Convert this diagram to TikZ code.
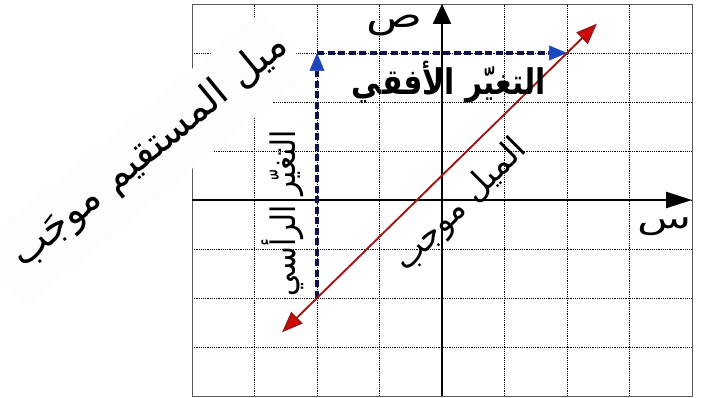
\documentclass[tikz,border=0pt]{standalone}
\usepackage{fontspec}
\usepackage{graphicx}
\usetikzlibrary{arrows.meta}
\TeXXeTstate=1
\newfontfamily\arabicfont[Script=Arabic]{DejaVu Sans}
\definecolor{navy}{RGB}{15,18,70}
\definecolor{tipblue}{RGB}{30,70,190}
\definecolor{linered}{RGB}{160,20,20}
\definecolor{tipred}{RGB}{210,10,10}
\definecolor{bgbox}{RGB}{253,253,253}
\definecolor{framegray}{RGB}{90,90,90}
\begin{document}
\begin{tikzpicture}[x=1pt,y=1pt,
  gridline/.style={black, line width=0.5pt, dash pattern=on 1.2pt off 1pt},
  framebox/.style={draw=framegray, line width=0.9pt},
  axisline/.style={black, line width=2.4pt},
  redline/.style={draw=linered, line width=1.9pt},
  changeline/.style={draw=navy, line width=3.8pt, dash pattern=on 7pt off 3.5pt},
  lbl/.style={inner sep=0pt, font=\arabicfont},
  bgpanel/.style={fill=bgbox, draw=none, inner sep=0pt}
]
\useasboundingbox (0,0) rectangle (702,398);
\begin{scope}[shift={(442pt,198pt)}, x=62.5pt, y=49pt]
  \foreach \i in {-3,...,3} \draw[gridline] (\i,-4) -- (\i,4);
  \foreach \j in {-3,...,3} \draw[gridline] (-4,\j) -- (4,\j);
  \draw[framebox] (-4,-4) rectangle (4,4);
  \coordinate (O) at (0,0);
  \coordinate (xstart) at (-4,0);
  \coordinate (xend) at (4,0);
  \coordinate (ybot) at (0,-4);
  \coordinate (ytop) at (0,4);
  \coordinate (rA) at (-2.56,-2.7);
  \coordinate (rB) at (2.48,3.6);
  \coordinate (P) at (-2,-2);
  \coordinate (Q) at (-2,3);
  \coordinate (R) at (2,3);
\end{scope}
% background panel of the title
\node[bgpanel, minimum width=370pt, minimum height=77pt, rotate=39.6] (panel) at (143.5,239) {};
% axes
\draw[axisline, -{Triangle[length=26pt,width=16pt]}] (xstart) -- (xend);
\draw[axisline, -{Triangle[length=20pt,width=18pt]}] (ybot) -- (ytop);
% vertical and horizontal change
\draw[changeline, -{Triangle[length=18pt,width=15pt,fill=tipblue,color=tipblue,line width=0.5pt]}] (P) -- (Q);
\draw[changeline, -{Triangle[length=18pt,width=15pt,fill=tipblue,color=tipblue,line width=0.5pt]}] (Q) -- (R);
% the line
\draw[redline, {Triangle[length=21pt,width=16pt,fill=tipred]}-{Triangle[length=21pt,width=16pt,fill=tipred]}] (rA) -- (rB);
% labels
\node[lbl] (ylbl) at (394,373) {\resizebox*{56pt}{21pt}{ص}};
\node[lbl] (xlbl) at (664,171) {\resizebox*{54pt}{18pt}{س}};
\node[lbl, font=\arabicfont\bfseries] (hlbl) at (449,316) {\resizebox*{194pt}{42pt}{\beginR التغيّر الأفقي\endR}};
\node[lbl, rotate=90] (vlbl) at (283,185) {\resizebox*{166pt}{42pt}{\beginR التغيّر الرأسي\endR}};
\node[lbl, rotate=45] (slbl) at (461,192) {\resizebox{172pt}{!}{\beginR الميل موجب\endR}};
\node[lbl, rotate=39.4] (title) at (150,247) {\resizebox{345pt}{!}{\beginR ميل المستقيم موجَب\endR}};
\end{tikzpicture}
\end{document}
